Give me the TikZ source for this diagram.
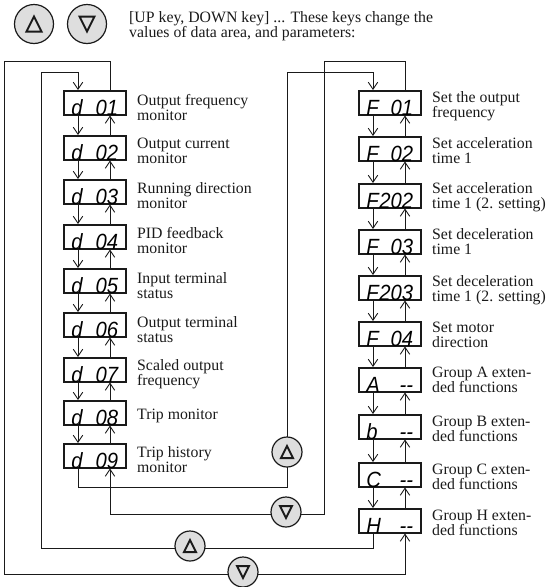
\documentclass[tikz,border=0pt]{standalone}
\usepackage{fontspec}
\usepackage{graphicx}
\setmainfont{Liberation Serif}
\newfontfamily\dispfont{Liberation Sans}
\usetikzlibrary{arrows.meta,calc}
\definecolor{ink}{HTML}{1A1A1A}
\definecolor{keygray}{HTML}{DEDEDE}
\newcommand{\disp}[2]{\smash{\raisebox{-12.5pt}{\scalebox{0.92}[1]{\hbox to 51pt{\dispfont\itshape\fontsize{22}{22}\selectfont #1\hfil #2}}}}}

\begin{document}
\begin{tikzpicture}[
    x=1pt, y=-1pt,
    >={Straight Barb[length=7pt,width=9.5pt,line width=0.9pt]},
    line cap=butt, line join=miter,
    every node/.style={inner sep=0pt},
    conn/.style={ink, line width=1pt},
    box/.style={draw=ink, fill=white, line width=1.5pt, minimum width=62pt, minimum height=24pt, anchor=north west},
    desc/.style={font=\fontsize{15.8}{15}\selectfont, align=left, anchor=base west, text=ink},
    key/.style={circle, draw=ink, fill=keygray, line width=1.2pt, minimum size=30pt},
    upkey/.style={key, path picture={\draw[ink, line width=2pt]
        ($(path picture bounding box.center)+(0,-#1)$) -- ++(#1,2*#1) -- ++(-2*#1,0) -- cycle;}},
    downkey/.style={key, path picture={\draw[ink, line width=2pt]
        ($(path picture bounding box.center)+(0,#1)$) -- ++(#1,-2*#1) -- ++(-2*#1,0) -- cycle;}},
]
\useasboundingbox (0,0) rectangle (551,587);

% ============================================================
% Lanes
% ============================================================
\coordinate (xLdn) at (78,0);
\coordinate (xLup) at (110,0);
\coordinate (xRdn) at (373,0);
\coordinate (xRup) at (405,0);
\coordinate (outerTL) at (4,61);
\coordinate (outerBL) at (4,574);
\coordinate (innerTL) at (41,72);
\coordinate (innerBL) at (41,548);
\coordinate (midOutT) at (324,61);
\coordinate (midOutB) at (324,514);
\coordinate (midInT)  at (287,72);
\coordinate (midInB)  at (287,487);

% Monitor column
\node[box] (d01) at (63,90)  {\disp{d}{01}};
\node[box] (d02) at (63,135) {\disp{d}{02}};
\node[box] (d03) at (63,179) {\disp{d}{03}};
\node[box] (d04) at (63,224) {\disp{d}{04}};
\node[box] (d05) at (63,268) {\disp{d}{05}};
\node[box] (d06) at (63,312) {\disp{d}{06}};
\node[box] (d07) at (63,357) {\disp{d}{07}};
\node[box] (d08) at (63,400) {\disp{d}{08}};
\node[box] (d09) at (63,443) {\disp{d}{09}};

% Function column
\node[box] (F01)  at (358,90)  {\disp{F}{01}};
\node[box] (F02)  at (358,136) {\disp{F}{02}};
\node[box] (F202) at (358,183) {\disp{F}{202}};
\node[box] (F03)  at (358,229) {\disp{F}{03}};
\node[box] (F203) at (358,275) {\disp{F}{203}};
\node[box] (F04)  at (358,321) {\disp{F}{04}};
\node[box] (GA)   at (358,367) {\disp{A}{-\kern0pt-}};
\node[box] (Gb)   at (358,414) {\disp{b}{-\kern0pt-}};
\node[box] (GC)   at (358,462) {\disp{C}{-\kern0pt-}};
\node[box] (GH)   at (358,508) {\disp{H}{-\kern0pt-}};

% Steps down and up, monitor column
\draw[conn,->] (d01.south -| xLdn) -- (d02.north -| xLdn);
\draw[conn,->] (d02.north -| xLup) -- (d01.south -| xLup);
\draw[conn,->] (d02.south -| xLdn) -- (d03.north -| xLdn);
\draw[conn,->] (d03.north -| xLup) -- (d02.south -| xLup);
\draw[conn,->] (d03.south -| xLdn) -- (d04.north -| xLdn);
\draw[conn,->] (d04.north -| xLup) -- (d03.south -| xLup);
\draw[conn,->] (d04.south -| xLdn) -- (d05.north -| xLdn);
\draw[conn,->] (d05.north -| xLup) -- (d04.south -| xLup);
\draw[conn,->] (d05.south -| xLdn) -- (d06.north -| xLdn);
\draw[conn,->] (d06.north -| xLup) -- (d05.south -| xLup);
\draw[conn,->] (d06.south -| xLdn) -- (d07.north -| xLdn);
\draw[conn,->] (d07.north -| xLup) -- (d06.south -| xLup);
\draw[conn,->] (d07.south -| xLdn) -- (d08.north -| xLdn);
\draw[conn,->] (d08.north -| xLup) -- (d07.south -| xLup);
\draw[conn,->] (d08.south -| xLdn) -- (d09.north -| xLdn);
\draw[conn,->] (d09.north -| xLup) -- (d08.south -| xLup);

% Steps down and up, function column
\draw[conn,->] (F01.south -| xRdn)  -- (F02.north -| xRdn);
\draw[conn,->] (F02.north -| xRup)  -- (F01.south -| xRup);
\draw[conn,->] (F02.south -| xRdn)  -- (F202.north -| xRdn);
\draw[conn,->] (F202.north -| xRup) -- (F02.south -| xRup);
\draw[conn,->] (F202.south -| xRdn) -- (F03.north -| xRdn);
\draw[conn,->] (F03.north -| xRup)  -- (F202.south -| xRup);
\draw[conn,->] (F03.south -| xRdn)  -- (F203.north -| xRdn);
\draw[conn,->] (F203.north -| xRup) -- (F03.south -| xRup);
\draw[conn,->] (F203.south -| xRdn) -- (F04.north -| xRdn);
\draw[conn,->] (F04.north -| xRup)  -- (F203.south -| xRup);
\draw[conn,->] (F04.south -| xRdn)  -- (GA.north -| xRdn);
\draw[conn,->] (GA.north -| xRup)   -- (F04.south -| xRup);
\draw[conn,->] (GA.south -| xRdn)   -- (Gb.north -| xRdn);
\draw[conn,->] (Gb.north -| xRup)   -- (GA.south -| xRup);
\draw[conn,->] (Gb.south -| xRdn)   -- (GC.north -| xRdn);
\draw[conn,->] (GC.north -| xRup)   -- (Gb.south -| xRup);
\draw[conn,->] (GC.south -| xRdn)   -- (GH.north -| xRdn);
\draw[conn,->] (GH.north -| xRup)   -- (GC.south -| xRup);

% Wrap-around connectors
\draw[conn,->] (GH.south -| xRdn) |- (innerBL) -- (innerTL) -| (d01.north -| xLdn);
\draw[conn,->] (d01.north -| xLup) |- (outerTL) -- (outerBL) -| (GH.south -| xRup);
\draw[conn,->] (d09.south -| xLdn) |- (midInB) -- (midInT) -| (F01.north -| xRdn);
\draw[conn,->] (F01.north -| xRup) |- (midOutT) -- (midOutB) -| (d09.south -| xLup);

% Keys on the connectors
\node[upkey=6]   (keyA) at (287,452) {};
\node[downkey=6] (keyB) at (286,512) {};
\node[upkey=6]   (keyC) at (190,546) {};
\node[downkey=6] (keyD) at (243,572) {};

% Key pair and heading
\node[upkey=7.5, minimum size=39pt]   (keyUp)   at (34,24) {};
\node[downkey=7.5, minimum size=39pt] (keyDown) at (87,24) {};
\node[desc] (heading) at (129,37)
  {[UP key, DOWN key] ... These keys change the\\values of data area, and parameters:};

% Descriptions, monitor column
\node[desc] (td01) at (137,120) {Output frequency\\monitor};
\node[desc] (td02) at (137,163) {Output current\\monitor};
\node[desc] (td03) at (137,208) {Running direction\\monitor};
\node[desc] (td04) at (137,253) {PID feedback\\monitor};
\node[desc] (td05) at (137,298) {Input terminal\\status};
\node[desc] (td06) at (137,342) {Output terminal\\status};
\node[desc] (td07) at (137,385) {Scaled output\\frequency};
\node[desc] (td08) at (137,419) {Trip monitor};
\node[desc] (td09) at (137,472) {Trip history\\monitor};

% Descriptions, function column
\node[desc] (tF01)  at (432,117) {Set the output\\frequency};
\node[desc] (tF02)  at (432,163) {Set acceleration\\time 1};
\node[desc] (tF202) at (432,208) {Set acceleration\\time 1 (2. setting)};
\node[desc] (tF03)  at (432,254) {Set deceleration\\time 1};
\node[desc] (tF203) at (432,301) {Set deceleration\\time 1 (2. setting)};
\node[desc] (tF04)  at (432,347) {Set motor\\direction};
\node[desc] (tGA)   at (432,392) {Group A exten-\\ded functions};
\node[desc] (tGb)   at (432,441) {Group B exten-\\ded functions};
\node[desc] (tGC)   at (432,489) {Group C exten-\\ded functions};
\node[desc] (tGH)   at (432,535) {Group H exten-\\ded functions};

\end{tikzpicture}
\end{document}
